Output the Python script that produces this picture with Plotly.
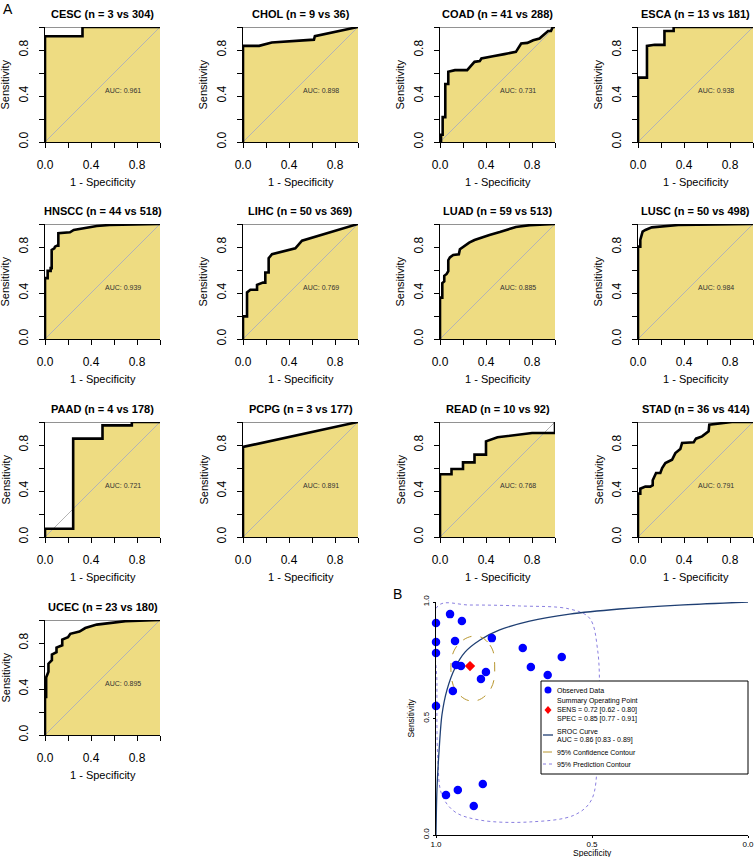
import plotly.graph_objects as go

W, H = 755, 857

# ---------------- Panel A data ----------------
panel_names = ["CESC", "CHOL", "COAD", "ESCA", "HNSCC", "LIHC", "LUAD", "LUSC",
               "PAAD", "PCPG", "READ", "STAD", "UCEC"]
n_cases = [3, 9, 41, 13, 44, 50, 59, 50, 4, 3, 10, 36, 23]
n_controls = [304, 36, 288, 181, 518, 369, 513, 498, 178, 177, 92, 414, 180]
auc_labels = ["0.961", "0.898", "0.731", "0.938", "0.939", "0.769", "0.885",
              "0.984", "0.721", "0.891", "0.768", "0.791", "0.895"]

CESC_fpr = [0, 0, 0.326, 0.326, 1]
CESC_sens = [0, 0.92, 0.92, 1, 1]

CHOL_fpr = [0, 0, 0.14, 0.25, 0.617, 0.625, 1]
CHOL_sens = [0, 0.836, 0.836, 0.865, 0.89, 0.92, 1]

COAD_fpr = [0, 0.009, 0.009, 0.023, 0.023, 0.046, 0.046, 0.072, 0.072, 0.11, 0.13, 0.236,
            0.26, 0.30, 0.346, 0.36, 0.46, 0.53, 0.56, 0.66, 0.68, 0.706, 0.76, 0.81,
            0.865, 0.91, 0.94, 0.965, 0.98, 1]
COAD_sens = [0, 0, 0.063, 0.063, 0.216, 0.216, 0.504, 0.504, 0.611, 0.617, 0.625, 0.625,
             0.654, 0.697, 0.703, 0.726, 0.746, 0.755, 0.764, 0.784, 0.813, 0.856, 0.862,
             0.885, 0.9, 0.942, 0.965, 0.965, 1, 1]

ESCA_fpr = [0, 0, 0.078, 0.078, 0.145, 0.23, 0.23, 0.31, 0.31, 1]
ESCA_sens = [0, 0.56, 0.56, 0.836, 0.845, 0.845, 0.965, 0.965, 1, 1]

HNSCC_fpr = [0, 0, 0.023, 0.023, 0.049, 0.049, 0.058, 0.058, 0.081, 0.087, 0.107, 0.116,
             0.116, 0.217, 0.25, 0.33, 0.45, 0.56, 0.77, 1]
HNSCC_sens = [0, 0.529, 0.529, 0.592, 0.592, 0.616, 0.616, 0.775, 0.789, 0.803, 0.812,
              0.812, 0.92, 0.928, 0.948, 0.962, 0.983, 0.991, 0.997, 1]

LIHC_fpr = [0, 0, 0.035, 0.035, 0.064, 0.122, 0.122, 0.174, 0.194, 0.194, 0.223, 0.223,
            0.252, 0.455, 0.513, 1]
LIHC_sens = [0, 0.197, 0.197, 0.405, 0.428, 0.428, 0.471, 0.49, 0.49, 0.578, 0.578,
             0.702, 0.737, 0.789, 0.855, 1]

LUAD_fpr = [0, 0, 0.02, 0.02, 0.037, 0.037, 0.058, 0.072, 0.072, 0.086, 0.115, 0.164,
            0.173, 0.216, 0.254, 0.30, 0.36, 0.43, 0.52, 0.59, 0.66, 0.78, 1]
LUAD_sens = [0, 0.36, 0.36, 0.486, 0.5, 0.549, 0.566, 0.59, 0.685, 0.71, 0.731, 0.737,
             0.78, 0.812, 0.838, 0.861, 0.884, 0.904, 0.93, 0.954, 0.974, 0.99, 1]

LUSC_fpr = [0, 0, 0.02, 0.02, 0.04, 0.064, 0.12, 0.24, 0.35, 1]
LUSC_sens = [0, 0.803, 0.803, 0.861, 0.934, 0.948, 0.971, 0.983, 0.991, 1]

PAAD_fpr = [0, 0, 0.245, 0.245, 0.5, 0.5, 0.755, 0.755, 1]
PAAD_sens = [0, 0.072, 0.072, 0.855, 0.855, 0.971, 0.971, 1, 1]

PCPG_fpr = [0, 0, 1]
PCPG_sens = [0, 0.783, 1]

READ_fpr = [0, 0, 0.1, 0.1, 0.2, 0.2, 0.3, 0.3, 0.4, 0.4, 0.5, 0.7, 0.8, 1, 1]
READ_sens = [0, 0.545, 0.545, 0.591, 0.591, 0.649, 0.649, 0.716, 0.716, 0.832, 0.867,
             0.896, 0.904, 0.904, 1]

STAD_fpr = [0, 0, 0.02, 0.02, 0.064, 0.107, 0.128, 0.128, 0.157, 0.194, 0.21, 0.238,
            0.296, 0.325, 0.368, 0.383, 0.484, 0.504, 0.557, 0.614, 0.62, 0.73, 0.817, 1]
STAD_sens = [0, 0.377, 0.377, 0.42, 0.438, 0.438, 0.45, 0.493, 0.556, 0.556, 0.6, 0.643,
             0.672, 0.73, 0.765, 0.817, 0.823, 0.855, 0.875, 0.919, 0.977, 0.991, 1, 1]

UCEC_fpr = [0, 0, 0.01, 0.01, 0.03, 0.03, 0.06, 0.06, 0.1, 0.1, 0.15, 0.15, 0.2, 0.22,
            0.3, 0.35, 0.45, 0.55, 0.7, 1]
UCEC_sens = [0, 0.33, 0.33, 0.5, 0.55, 0.62, 0.65, 0.7, 0.72, 0.76, 0.78, 0.83, 0.85,
             0.88, 0.9, 0.93, 0.96, 0.97, 0.99, 1]

curves_fpr = [CESC_fpr, CHOL_fpr, COAD_fpr, ESCA_fpr, HNSCC_fpr, LIHC_fpr, LUAD_fpr,
              LUSC_fpr, PAAD_fpr, PCPG_fpr, READ_fpr, STAD_fpr, UCEC_fpr]
curves_sens = [CESC_sens, CHOL_sens, COAD_sens, ESCA_sens, HNSCC_sens, LIHC_sens,
               LUAD_sens, LUSC_sens, PAAD_sens, PCPG_sens, READ_sens, STAD_sens, UCEC_sens]

tick_vals = [0, 0.2, 0.4, 0.6, 0.8, 1.0]
tick_text = ["0.0", "", "0.4", "", "0.8", ""]

# ---------------- Panel B data ----------------
obs_spec = [1.0, 1.0, 1.0, 1.0, 0.955, 0.917, 0.939, 0.936, 0.920, 0.946, 0.821, 0.856,
            0.840, 0.722, 0.696, 0.642, 0.597, 0.968, 0.930, 0.879, 0.850]
obs_sens = [0.910, 0.828, 0.781, 0.554, 0.948, 0.918, 0.833, 0.730, 0.725, 0.618, 0.845,
            0.670, 0.700, 0.803, 0.721, 0.687, 0.764, 0.172, 0.193, 0.124, 0.219]

summary_spec = [0.891]
summary_sens = [0.725]

sroc_spec = [1.0, 0.997, 0.990, 0.981, 0.965, 0.939, 0.907, 0.859, 0.796, 0.700, 0.572,
             0.412, 0.220, 0.0]
sroc_sens = [0.0, 0.193, 0.365, 0.515, 0.622, 0.717, 0.785, 0.837, 0.880, 0.918, 0.948,
             0.970, 0.987, 1.0]

conf_spec = [0.872, 0.827, 0.812, 0.827, 0.879, 0.930, 0.952, 0.933, 0.872]
conf_sens = [0.854, 0.815, 0.730, 0.622, 0.575, 0.609, 0.700, 0.811, 0.854]

pred_spec = [0.994, 0.891, 0.732, 0.572, 0.508, 0.482, 0.476, 0.482, 0.502, 0.556, 0.700,
             0.859, 0.939, 0.981, 0.994, 0.997, 0.994]
pred_sens = [0.983, 0.987, 0.983, 0.970, 0.931, 0.794, 0.579, 0.322, 0.150, 0.086, 0.056,
             0.064, 0.099, 0.172, 0.322, 0.65, 0.983]

legend_lines = ["Observed Data", "Summary Operating Point", "SENS = 0.72 [0.62 - 0.80]",
                "SPEC = 0.85 [0.77 - 0.91]", "SROC Curve", "AUC = 0.86 [0.83 - 0.89]",
                "95% Confidence Contour", "95% Prediction Contour"]

# ---------------- Layout helpers ----------------
FONT = "Liberation Sans, Arial, sans-serif"
FILL = "#EEDC82"
col_left = [45, 243, 440, 638]
row_top = [27, 224, 422, 620]
PS = 115


def fx(p):
    return p / W


def fy(p):
    return 1 - p / H


fig = go.Figure()
layout = {}
annotations = []
shapes = []

for i, name in enumerate(panel_names):
    k = i + 1
    r, c = divmod(i, 4)
    L, T = col_left[c], row_top[r]
    xa, ya = f"x{k}", f"y{k}"
    xs, ys = curves_fpr[i], curves_sens[i]
    fig.add_trace(go.Scatter(x=xs + [1, 0], y=ys + [0, 0], xaxis=xa, yaxis=ya,
                             fill="toself", fillcolor=FILL, mode="lines",
                             line=dict(width=0, color=FILL), hoverinfo="skip",
                             showlegend=False))
    fig.add_trace(go.Scatter(x=[0, 1], y=[0, 1], xaxis=xa, yaxis=ya, mode="lines",
                             line=dict(color="#B4B4B4", width=1), showlegend=False,
                             hoverinfo="skip"))
    fig.add_trace(go.Scatter(x=xs, y=ys, xaxis=xa, yaxis=ya, mode="lines",
                             line=dict(color="black", width=2.6), showlegend=False,
                             cliponaxis=False))
    axis_common = dict(range=[0, 1], tickvals=tick_vals, ticktext=tick_text,
                       ticks="outside", ticklen=5, tickwidth=1, tickcolor="black",
                       showline=True, linecolor="black", linewidth=1.3,
                       showgrid=False, zeroline=False, fixedrange=True, automargin=False,
                       tickfont=dict(family=FONT, size=12, color="black"))
    layout[f"xaxis{k}"] = dict(domain=[fx(L), fx(L + PS)], anchor=ya,
                               ticklabelstandoff=6, **axis_common)
    layout[f"yaxis{k}"] = dict(domain=[fy(T + PS), fy(T)], anchor=xa, tickangle=-90,
                               ticklabelstandoff=6, **axis_common)
    shapes.append(dict(type="line", xref=xa, yref=ya, x0=0, x1=1, y0=1, y1=1,
                       line=dict(color="#6E6E6E", width=1.5), layer="below"))
    shapes.append(dict(type="line", xref=xa, yref=ya, x0=1, x1=1, y0=0, y1=1,
                       line=dict(color="#505050", width=1.5), layer="below"))
    annotations.append(dict(text=f"<b>{name} (n = {n_cases[i]} vs {n_controls[i]})</b>",
                            x=fx(L + PS / 2), y=fy(T - 13), xref="paper", yref="paper",
                            showarrow=False, xanchor="center", yanchor="middle",
                            font=dict(family=FONT, size=11, color="black")))
    annotations.append(dict(text=f"AUC: {auc_labels[i]}", x=0.5, y=0.5, xref=xa, yref=ya,
                            showarrow=False, xanchor="left", yanchor="top",
                            font=dict(family=FONT, size=7, color="#333333")))
    annotations.append(dict(text="1 - Specificity", x=fx(L + PS / 2), y=fy(T + PS + 40),
                            xref="paper", yref="paper", showarrow=False,
                            xanchor="center", yanchor="middle",
                            font=dict(family=FONT, size=11, color="black")))
    annotations.append(dict(text="Sensitivity", x=fx(L - 40), y=fy(T + PS / 2),
                            xref="paper", yref="paper", showarrow=False, textangle=-90,
                            xanchor="center", yanchor="middle",
                            font=dict(family=FONT, size=11, color="black")))

# ---------------- Panel B ----------------
kb = 14
xb, yb = f"x{kb}", f"y{kb}"
BL, BR, BT, BB = 436, 748, 602, 835

fig.add_trace(go.Scatter(x=pred_spec, y=pred_sens, xaxis=xb, yaxis=yb, mode="lines",
                         line=dict(color="#8A7FE0", width=1, dash="dot", shape="spline",
                                   smoothing=1.0),
                         showlegend=False, hoverinfo="skip"))
fig.add_trace(go.Scatter(x=sroc_spec, y=sroc_sens, xaxis=xb, yaxis=yb, mode="lines",
                         line=dict(color="#1F3F73", width=1.3, shape="spline",
                                   smoothing=0.8),
                         showlegend=False, hoverinfo="skip", cliponaxis=False))
fig.add_trace(go.Scatter(x=conf_spec, y=conf_sens, xaxis=xb, yaxis=yb, mode="lines",
                         line=dict(color="#B8962E", width=1, dash="dash", shape="spline",
                                   smoothing=1.2),
                         showlegend=False, hoverinfo="skip"))
fig.add_trace(go.Scatter(x=obs_spec, y=obs_sens, xaxis=xb, yaxis=yb, mode="markers",
                         marker=dict(color="#0000FF", size=8.5, line=dict(width=0)),
                         showlegend=False, cliponaxis=False))
fig.add_trace(go.Scatter(x=summary_spec, y=summary_sens, xaxis=xb, yaxis=yb,
                         mode="markers",
                         marker=dict(color="#FF0000", size=8, symbol="diamond",
                                     line=dict(width=0)),
                         showlegend=False, cliponaxis=False))

b_axis = dict(ticks="outside", ticklen=2, tickwidth=1, tickcolor="black",
              showline=True, linecolor="black", linewidth=1, showgrid=False,
              zeroline=False, fixedrange=True, automargin=False,
              ticklabeloverflow="allow",
              tickfont=dict(family=FONT, size=8, color="black"))
layout[f"xaxis{kb}"] = dict(domain=[fx(BL), fx(BR)], anchor=yb, range=[1, 0],
                            tickvals=[1.0, 0.5, 0.0], ticktext=["1.0", "0.5", "0.0"],
                            ticklabelstandoff=-1, **b_axis)
layout[f"yaxis{kb}"] = dict(domain=[fy(BB), fy(BT)], anchor=xb, range=[0, 1],
                            tickvals=[0.0, 0.5, 1.0], ticktext=["0.0", "0.5", "1.0"],
                            tickangle=-90, ticklabelstandoff=1, **b_axis)

annotations.append(dict(text="Specificity", x=fx((BL + BR) / 2), y=fy(852.5), xref="paper",
                        yref="paper", showarrow=False, xanchor="center", yanchor="middle",
                        font=dict(family=FONT, size=8.5, color="black")))
annotations.append(dict(text="Sensitivity", x=fx(410), y=fy((BT + BB) / 2), xref="paper",
                        yref="paper", showarrow=False, textangle=-90, xanchor="center",
                        yanchor="middle", font=dict(family=FONT, size=8.5, color="black")))

# legend box (drawn)
LX0, LX1, LY0, LY1 = 541, 748, 681, 774
shapes.append(dict(type="rect", xref="paper", yref="paper", x0=fx(LX0), x1=fx(LX1),
                   y0=fy(LY1), y1=fy(LY0), line=dict(color="black", width=1),
                   fillcolor="white", layer="above"))
text_y = [690, 701, 710, 719, 731, 740, 752, 764]
for t, yy in zip(legend_lines, text_y):
    annotations.append(dict(text=t, x=fx(555), y=fy(yy), xref="paper", yref="paper",
                            showarrow=False, xanchor="left", yanchor="middle",
                            font=dict(family=FONT, size=7, color="black")))
shapes.append(dict(type="circle", xref="paper", yref="paper", x0=fx(544.5), x1=fx(551.5),
                   y0=fy(693.5), y1=fy(686.5), fillcolor="#0000FF", line=dict(width=0),
                   layer="above"))
cx, cy = 548, 710
shapes.append(dict(type="path", xref="paper", yref="paper",
                   path=f"M {fx(cx)},{fy(cy-4)} L {fx(cx+3.5)},{fy(cy)} L {fx(cx)},{fy(cy+4)} L {fx(cx-3.5)},{fy(cy)} Z",
                   fillcolor="#FF0000", line=dict(width=0), layer="above"))
shapes.append(dict(type="line", xref="paper", yref="paper", x0=fx(543), x1=fx(553),
                   y0=fy(735), y1=fy(735), line=dict(color="#1F3F73", width=1.3),
                   layer="above"))
shapes.append(dict(type="line", xref="paper", yref="paper", x0=fx(543), x1=fx(553),
                   y0=fy(752), y1=fy(752), line=dict(color="#B8962E", width=1, dash="dash"),
                   layer="above"))
shapes.append(dict(type="line", xref="paper", yref="paper", x0=fx(543), x1=fx(553),
                   y0=fy(764), y1=fy(764), line=dict(color="#8A7FE0", width=1, dash="dot"),
                   layer="above"))

annotations.append(dict(text="A", x=fx(8), y=fy(9), xref="paper", yref="paper",
                        showarrow=False, xanchor="center", yanchor="middle",
                        font=dict(family=FONT, size=14, color="black")))
annotations.append(dict(text="B", x=fx(397), y=fy(594), xref="paper", yref="paper",
                        showarrow=False, xanchor="center", yanchor="middle",
                        font=dict(family=FONT, size=14, color="black")))

fig.update_layout(width=W, height=H,
                  margin=dict(l=0, r=0, t=0, b=0, pad=0, autoexpand=False),
                  paper_bgcolor="white", plot_bgcolor="white", hovermode=False,
                  annotations=annotations, shapes=shapes, showlegend=False, **layout)

fig.write_html("out.html", config={"displayModeBar": False, "staticPlot": True},
               post_script="document.body.style.margin='0px';document.body.style.padding='0px';")
